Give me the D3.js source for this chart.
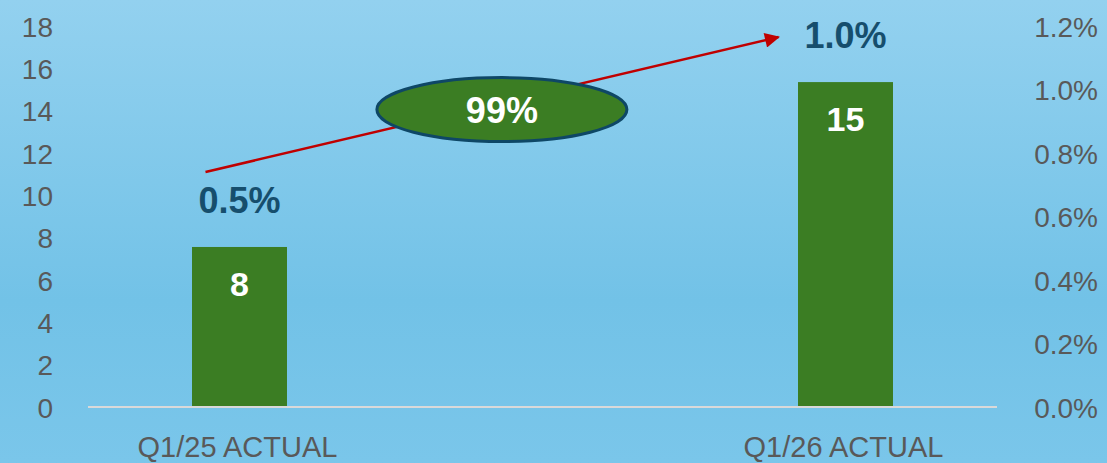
<!DOCTYPE html>
<html><head><meta charset="utf-8">
<script src="https://cdn.jsdelivr.net/npm/d3@7"></script>
<style>html,body{margin:0;padding:0;overflow:hidden;}svg{display:block;font-family:"Liberation Sans",Arial,sans-serif;}</style>
</head><body><svg id="c" width="1107" height="463"></svg>
<script>
const categories = ["Q1/25 ACTUAL", "Q1/26 ACTUAL"];
const barValues = [7.56, 15.35];
const pctValues = [0.005, 0.010];
const leftTicks = [0, 2, 4, 6, 8, 10, 12, 14, 16, 18];
const rightTicks = [0, 0.002, 0.004, 0.006, 0.008, 0.010, 0.012];
const changeLabel = ["99%"];

const W = 1107, H = 463;
const svg = d3.select("#c");
const defs = svg.append("defs");
const g = defs.append("linearGradient").attr("id","bg").attr("x1",0).attr("y1",0).attr("x2",0).attr("y2",1);
g.append("stop").attr("offset","0%").attr("stop-color","#93d1ef");
g.append("stop").attr("offset","65%").attr("stop-color","#72c2e7");
g.append("stop").attr("offset","100%").attr("stop-color","#7ac6ea");
svg.append("rect").attr("width",W).attr("height",H).attr("fill","url(#bg)");

const mk = defs.append("marker").attr("id","arr").attr("viewBox","0 0 10 10")
  .attr("refX",9).attr("refY",5).attr("markerWidth",7).attr("markerHeight",6)
  .attr("markerUnits","strokeWidth").attr("orient","auto");
mk.append("path").attr("d","M0,0L10,5L0,10z").attr("fill","#c00000");

const x = d3.scalePoint().domain(categories).range([88, 997]).padding(0.25);
const yL = d3.scaleLinear().domain([0, 18]).range([407, 26]);
const yR = d3.scaleLinear().domain([0, 0.012]).range([407, 26]);
const barW = 95;

// left axis
const aL = svg.append("g").attr("transform","translate(53,0)")
  .call(d3.axisLeft(yL).tickValues(leftTicks).tickSize(0).tickPadding(0).tickFormat(d3.format("d")));
aL.select(".domain").remove();
aL.selectAll("text").attr("font-size",28).attr("fill","#595959").attr("font-family","Liberation Sans, Arial, sans-serif").attr("dy","0.36em");

// right axis
const aR = svg.append("g").attr("transform","translate(1098,0)")
  .call(d3.axisLeft(yR).tickValues(rightTicks).tickSize(0).tickPadding(0).tickFormat(d3.format(".1%")));
aR.select(".domain").remove();
aR.selectAll("text").attr("font-size",28).attr("fill","#595959").attr("font-family","Liberation Sans, Arial, sans-serif").attr("dy","0.36em");

// bars
svg.selectAll("rect.bar").data(barValues).join("rect").attr("class","bar")
  .attr("x",(d,i)=>x(categories[i]) - barW/2).attr("width",barW)
  .attr("y",d=>yL(d)).attr("height",d=>yL(0)-yL(d)).attr("fill","#3b7d23");

// baseline
svg.append("line").attr("x1",88).attr("x2",997).attr("y1",yL(0)).attr("y2",yL(0))
  .attr("stroke","#d9d9d9").attr("stroke-width",2);

// bar labels
svg.selectAll("text.bl").data(barValues).join("text").attr("class","bl")
  .attr("x",(d,i)=>x(categories[i])).attr("y",d=>yL(d)+49)
  .attr("text-anchor","middle").attr("font-size",34).attr("font-weight","bold").attr("fill","#ffffff")
  .text(d=>d3.format(".0f")(d));

// category labels
svg.selectAll("text.cat").data(categories).join("text").attr("class","cat")
  .attr("x",d=>x(d)-2).attr("y",457).attr("text-anchor","middle")
  .attr("font-size",29).attr("fill","#595959")
  .text(d=>d);

// percent labels
svg.selectAll("text.pl").data(pctValues).join("text").attr("class","pl")
  .attr("x",(d,i)=>x(categories[i])).attr("y",(d,i)=>yL(barValues[i])-34)
  .attr("text-anchor","middle").attr("font-size",36).attr("font-weight","bold").attr("fill","#164e6d")
  .text(d=>d3.format(".1%")(d));

// arrow
const x0 = x(categories[0]) - 34, y0 = yL(barValues[0]) - 75;
const x1 = x(categories[1]) - 67, y1 = yL(barValues[1]) - 45;
svg.append("line").attr("x1",x0).attr("y1",y0).attr("x2",x1).attr("y2",y1)
  .attr("stroke","#c00000").attr("stroke-width",2.5).attr("marker-end","url(#arr)");

// change ellipse
const ex = x(categories[0]) + (x(categories[1]) - x(categories[0])) * 0.433;
const ey = yL(14.05);
svg.append("ellipse").attr("cx",ex).attr("cy",ey).attr("rx",125).attr("ry",32)
  .attr("fill","#3b7d23").attr("stroke","#0e4766").attr("stroke-width",3);
svg.append("text").attr("x",ex).attr("y",ey+13).attr("text-anchor","middle")
  .attr("font-size",36).attr("font-weight","bold").attr("fill","#ffffff").text(changeLabel[0]);
</script></body></html>
